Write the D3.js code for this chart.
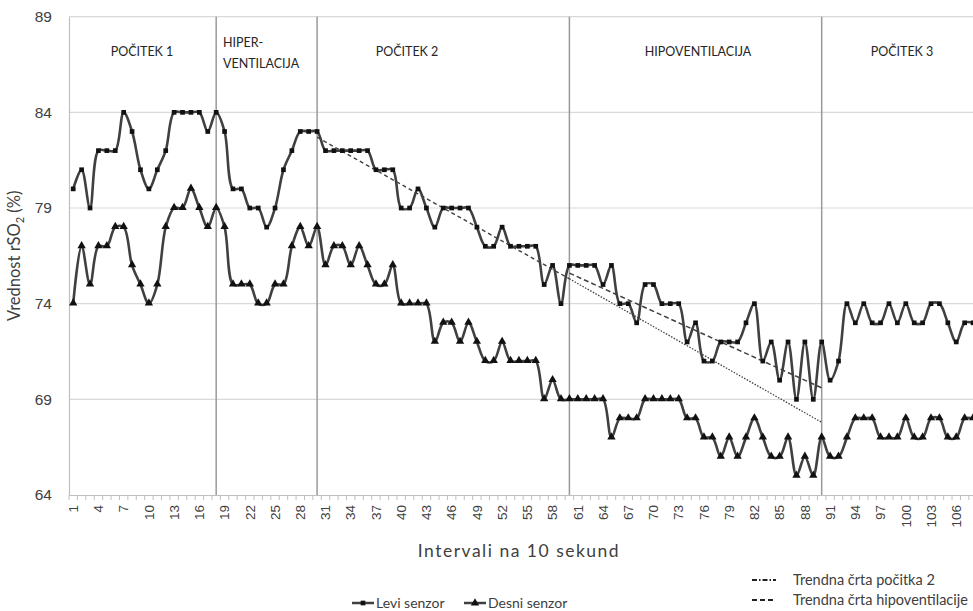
<!DOCTYPE html>
<html>
<head>
<meta charset="utf-8">
<script src="https://cdn.jsdelivr.net/npm/d3@7"></script>
<style>
  html, body { margin: 0; padding: 0; background: #fff; }
  svg { display: block; font-family: Lato, "Open Sans", sans-serif; }
</style>
</head>
<body>
<svg id="chart" width="973" height="611"></svg>
<script>
// rSO2 readings, one per 10-second interval
const intervals = d3.range(1, 109);
const leviSenzor = [
  80, 81, 79, 82, 82, 82, 84, 83, 81, 80, 81, 82, 84, 84, 84, 84, 83, 84,
  83, 80, 80, 79, 79, 78, 79, 81, 82, 83, 83, 83,
  82, 82, 82, 82, 82, 82, 81, 81, 81, 79, 79, 80, 79, 78, 79, 79, 79, 79, 78, 77,
  77, 78, 77, 77, 77, 77, 75, 76, 74, 76,
  76, 76, 76, 75, 76, 74, 74, 73, 75, 75, 74, 74, 74, 72, 73, 71, 71, 72, 72, 72,
  73, 74, 71, 72, 70, 72, 69, 72, 69, 72,
  70, 71, 74, 73, 74, 73, 73, 74, 73, 74, 73, 73, 74, 74, 73, 72, 73, 73
];
const desniSenzor = [
  74, 77, 75, 77, 77, 78, 78, 76, 75, 74, 75, 78, 79, 79, 80, 79, 78, 79,
  78, 75, 75, 75, 74, 74, 75, 75, 77, 78, 77, 78,
  76, 77, 77, 76, 77, 76, 75, 75, 76, 74, 74, 74, 74, 72, 73, 73, 72, 73, 72, 71,
  71, 72, 71, 71, 71, 71, 69, 70, 69, 69,
  69, 69, 69, 69, 67, 68, 68, 68, 69, 69, 69, 69, 69, 68, 68, 67, 67, 66, 67, 66,
  67, 68, 67, 66, 66, 67, 65, 66, 65, 67,
  66, 66, 67, 68, 68, 68, 67, 67, 67, 68, 67, 67, 68, 68, 67, 67, 68, 68
];
// linear trends: rest phase 2 (projected through hypoventilation) and hypoventilation
const trendPocitek2 = [[30, 82.7], [60, 75.3], [90, 67.8]];
const trendHipoventilacija = [[60, 75.6], [90, 69.6]];
const yTicks = [64, 69, 74, 79, 84, 89];
const phaseBounds = [18, 30, 60, 90];
const phaseNames = [["POČITEK 1"], ["HIPER-", "VENTILACIJA"], ["POČITEK 2"], ["HIPOVENTILACIJA"], ["POČITEK 3"]];
const seriesNames = ["Levi senzor", "Desni senzor"];
const trendNames = ["Trendna črta počitka 2", "Trendna črta hipoventilacije"];

// layout
const plot = { left: 69, top: 16.7, bottom: 495, band: 8.41 };
const phaseLabelPos = [
  { x: 142, y: 56, anchor: "middle" },
  { x: 223, y: 47, anchor: "start" },
  { x: 407, y: 56, anchor: "middle" },
  { x: 698, y: 56, anchor: "middle" },
  { x: 902, y: 56, anchor: "middle" }
];
const ink = "#404040";

const svg = d3.select("#chart");

const x = d3.scaleBand()
  .domain(intervals)
  .range([plot.left, plot.left + intervals.length * plot.band])
  .padding(0);
const xc = i => x(i) + x.bandwidth() / 2;
const y = d3.scaleLinear().domain([64, 89]).range([plot.bottom, plot.top]);

// horizontal gridlines
svg.append("g").selectAll("line").data(yTicks.slice(1)).join("line")
  .attr("x1", plot.left).attr("x2", 973)
  .attr("y1", d => y(d)).attr("y2", d => y(d))
  .attr("stroke", "#d9d9d9").attr("stroke-width", 1.2);

// y axis
const yAxis = svg.append("g").attr("transform", `translate(${plot.left},0)`)
  .call(d3.axisLeft(y).tickValues(yTicks).tickSize(0).tickPadding(17));
yAxis.select(".domain").attr("stroke", "#bfbfbf").attr("stroke-width", 1.2);
yAxis.selectAll("text").attr("font-size", 15.5).attr("fill", ink);

// x axis with labels every third interval
const xAxis = svg.append("g").attr("transform", `translate(0,${plot.bottom})`)
  .call(d3.axisBottom(x).tickValues(intervals.filter(i => (i - 1) % 3 === 0)).tickSize(0));
xAxis.select(".domain").attr("stroke", "#bfbfbf").attr("stroke-width", 1.2);
xAxis.selectAll("text")
  .attr("font-size", 13.5).attr("fill", ink)
  .attr("text-anchor", "end")
  .attr("dy", "0.35em")
  .attr("transform", "translate(0,10) rotate(-90)")
  .attr("x", 0).attr("y", 0);

// tick marks at category boundaries
svg.append("g").selectAll("line").data(intervals).join("line")
  .attr("x1", d => x(d)).attr("x2", d => x(d))
  .attr("y1", plot.bottom).attr("y2", plot.bottom + 5)
  .attr("stroke", "#bfbfbf").attr("stroke-width", 1);

// phase boundaries
svg.append("g").selectAll("line").data(phaseBounds).join("line")
  .attr("x1", d => xc(d)).attr("x2", d => xc(d))
  .attr("y1", plot.top).attr("y2", plot.bottom)
  .attr("stroke", "#9a9a9a").attr("stroke-width", 1.5);

// phase labels
phaseNames.forEach((lines, k) => {
  const p = phaseLabelPos[k];
  const t = svg.append("text")
    .attr("x", p.x).attr("y", p.y)
    .attr("text-anchor", p.anchor)
    .attr("font-size", 12.5).attr("fill", "#262626");
  lines.forEach((s, j) => t.append("tspan").attr("x", p.x).attr("dy", j ? 21 : 0).text(s));
});

// trend lines
const trendLine = d3.line().x(d => xc(d[0])).y(d => y(d[1]));
svg.append("path").attr("d", trendLine(trendPocitek2.slice(0, 2)))
  .attr("fill", "none").attr("stroke", ink).attr("stroke-width", 1.4).attr("stroke-dasharray", "4,3");
svg.append("path").attr("d", trendLine(trendPocitek2.slice(1)))
  .attr("fill", "none").attr("stroke", ink).attr("stroke-width", 1.3).attr("stroke-dasharray", "1.5,1.5");
svg.append("path").attr("d", trendLine(trendHipoventilacija))
  .attr("fill", "none").attr("stroke", ink).attr("stroke-width", 1.5).attr("stroke-dasharray", "5,3");

// sensor series
const seriesLine = d3.line()
  .x((d, i) => xc(intervals[i]))
  .y(d => y(d))
  .curve(d3.curveCatmullRom.alpha(0.5));

[leviSenzor, desniSenzor].forEach(values => {
  svg.append("path").attr("d", seriesLine(values))
    .attr("fill", "none").attr("stroke", ink).attr("stroke-width", 2.6)
    .attr("stroke-linejoin", "round");
});

const square = d3.symbol().type(d3.symbolSquare).size(22);
const triangle = d3.symbol().type(d3.symbolTriangle).size(30);

svg.append("g").selectAll("path").data(leviSenzor).join("path")
  .attr("d", square)
  .attr("transform", (d, i) => `translate(${xc(intervals[i])},${y(d)})`)
  .attr("fill", "#111");
svg.append("g").selectAll("path").data(desniSenzor).join("path")
  .attr("d", triangle)
  .attr("transform", (d, i) => `translate(${xc(intervals[i])},${y(d) - 0.5})`)
  .attr("fill", "#111");

// axis titles
svg.append("text")
  .attr("transform", `translate(20,${(plot.top + plot.bottom) / 2}) rotate(-90)`)
  .attr("text-anchor", "middle").attr("font-size", 16.5).attr("fill", ink)
  .call(t => {
    t.append("tspan").text("Vrednost rSO");
    t.append("tspan").attr("font-size", 11).attr("dy", 4).text("2");
    t.append("tspan").attr("dy", -4).text(" (%)");
  });

svg.append("text")
  .attr("x", 519).attr("y", 557)
  .attr("text-anchor", "middle").attr("font-size", 17.5).attr("fill", ink)
  .attr("letter-spacing", 1.5)
  .text("Intervali na 10 sekund");

// legend: sensors
const legendY = 603;
const sensorLegend = [
  { x: 352, sym: square },
  { x: 464, sym: triangle }
];
sensorLegend.forEach((l, k) => {
  svg.append("line").attr("x1", l.x).attr("x2", l.x + 22).attr("y1", legendY).attr("y2", legendY)
    .attr("stroke", ink).attr("stroke-width", 2.5);
  svg.append("path").attr("d", l.sym).attr("transform", `translate(${l.x + 11},${legendY})`).attr("fill", "#111");
  svg.append("text").attr("x", l.x + 24).attr("y", legendY + 5)
    .attr("font-size", 14).attr("fill", ink).text(seriesNames[k]);
});

// legend: trend lines
const trendLegend = [
  { y: 580, dash: "5,2,1.5,2", w: 2 },
  { y: 600, dash: "5,3", w: 2 }
];
trendLegend.forEach((l, k) => {
  svg.append("line").attr("x1", 752).attr("x2", 776).attr("y1", l.y).attr("y2", l.y)
    .attr("stroke", "#222").attr("stroke-width", l.w).attr("stroke-dasharray", l.dash);
  svg.append("text").attr("x", 793).attr("y", l.y + 4.5)
    .attr("font-size", 14.5).attr("fill", ink).text(trendNames[k]);
});
</script>
</body>
</html>
